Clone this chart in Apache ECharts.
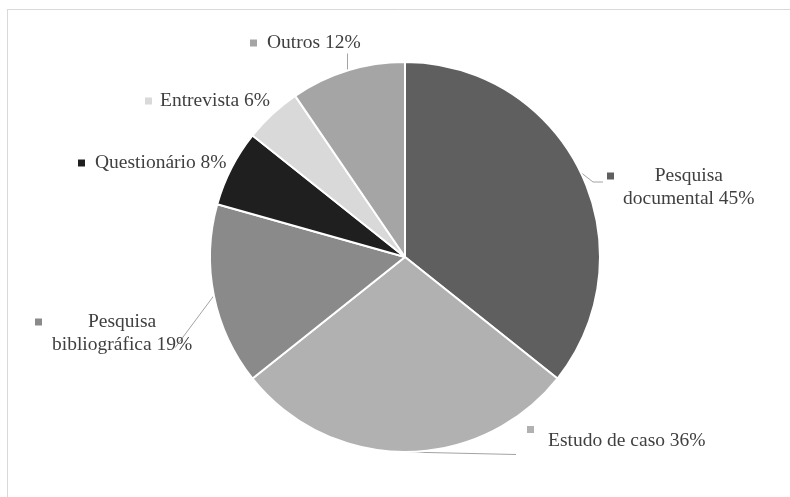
<!DOCTYPE html>
<html>
<head>
<meta charset="utf-8">
<script src="https://cdn.jsdelivr.net/npm/echarts@6/dist/echarts.min.js"></script>
<style>
html,body{margin:0;padding:0;background:#fff;}
#c{width:790px;height:497px;}
</style>
</head>
<body>
<div id="c"></div>
<script>
// Data
const categories = ['Pesquisa documental', 'Estudo de caso', 'Pesquisa bibliográfica', 'Questionário', 'Entrevista', 'Outros'];
const values = [45, 36, 19, 8, 6, 12];
const labelLines1 = ['Pesquisa', 'Estudo de caso 36%', 'Pesquisa', 'Questionário 8%', 'Entrevista 6%', 'Outros 12%'];
const labelLines2 = ['documental 45%', null, 'bibliográfica 19%', null, null, null];

// Styles / layout
const colors = ['#5f5f5f', '#b1b1b1', '#8a8a8a', '#1f1f1f', '#d9d9d9', '#a5a5a5'];
const labelBox = [[607, 164.5], [527, 426], [35, 310.5], [78, 151.5], [145, 89.5], [250, 31.5]];
const markerGap = [16, 21, 17, 17, 15, 17];
const showLine = [true, true, true, false, false, true];
// connector end: [fx, fy, dx, dy, elbow dx] relative to label rect (fx null = keep start x)
const lineEnd = [[0, 0.5, -4, -4, -10], [0, 1, -11, 1, 0], [1, 1, -17, -6, 0], null, null, [null, 1, 0, 2, 0]];

const chart = echarts.init(document.getElementById('c'));

const data = categories.map((name, i) => {
  const rich = {
    m: { width: 7, height: 7, backgroundColor: colors[i], align: 'left' },
    g: { width: markerGap[i] - 7, align: 'left' },
    sp: { width: markerGap[i], align: 'left' },
    t: { fontFamily: 'Liberation Serif', fontSize: 19.5, color: '#404040', lineHeight: 23 }
  };
  let fmt;
  if (labelLines2[i]) {
    rich.t.align = 'center';
    fmt = '{m|}{g|}{t|' + labelLines1[i] + '}\n{sp|}{t|' + labelLines2[i] + '}';
  } else {
    if (i === 1) { rich.m.verticalAlign = 'top'; rich.t.lineHeight = 30; }
    fmt = '{m|}{g|}{t|' + labelLines1[i] + '}';
  }
  return {
    name, value: values[i],
    itemStyle: { color: colors[i] },
    label: { formatter: fmt, rich: rich },
    labelLine: { show: showLine[i] }
  };
});

chart.setOption({
  animation: false,
  backgroundColor: '#ffffff',
  graphic: [
    { type: 'line', shape: { x1: 7, y1: 9.5, x2: 790, y2: 9.5 }, style: { stroke: '#d9d9d9', lineWidth: 1 } },
    { type: 'line', shape: { x1: 7.5, y1: 9, x2: 7.5, y2: 497 }, style: { stroke: '#d9d9d9', lineWidth: 1 } }
  ],
  series: [{
    type: 'pie',
    center: [405, 257],
    radius: 195,
    startAngle: 90,
    clockwise: true,
    silent: true,
    emphasis: { disabled: true },
    itemStyle: { borderColor: '#ffffff', borderWidth: 2 },
    label: { show: true, position: 'outside', align: 'left' },
    labelLine: { show: true, length: 8, length2: 8, lineStyle: { color: '#a3a3a3', width: 1 } },
    labelLayout: function (p) {
      const i = p.dataIndex;
      const b = labelBox[i];
      const res = { x: b[0], y: b[1], align: 'left', verticalAlign: 'top' };
      const e = lineEnd[i];
      if (e && p.labelLinePoints) {
        const s = p.labelLinePoints[0];
        const w = p.labelRect.width, h = p.labelRect.height;
        const ex = e[0] == null ? s[0] : b[0] + e[0] * w + e[2];
        const ey = b[1] + e[1] * h + e[3];
        const mid = e[4] ? [ex + e[4], ey] : [s[0], s[1]];
        res.labelLinePoints = [[s[0], s[1]], mid, [ex, ey]];
      }
      return res;
    },
    data: data
  }]
});
</script>
</body>
</html>
